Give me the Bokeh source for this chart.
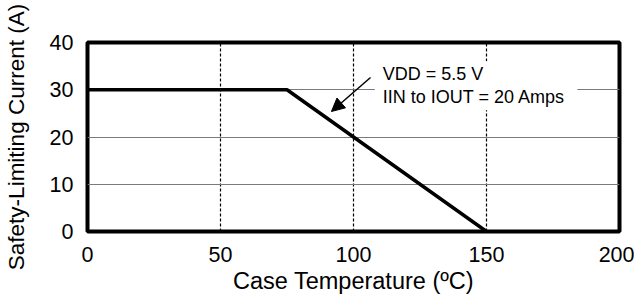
from bokeh.plotting import figure
from bokeh.models import FixedTicker, Label, Arrow, NormalHead, Range1d
from bokeh.embed import file_html
from bokeh.resources import INLINE

# Data
temp_c = [0, 75, 150]
current_a = [30, 30, 0]
x_ticks = [0, 50, 100, 150, 200]
y_ticks = [0, 10, 20, 30, 40]
note_line1 = "VDD = 5.5 V"
note_line2 = "IIN to IOUT = 20 Amps"
note_x = 108.0
note_y1 = 33.3
note_y2 = 28.4
arrow_from = (106.4, 32.6)
arrow_to = (91.7, 25.4)

FONT = "Liberation Sans"

p = figure(
    frame_width=532, frame_height=189,
    min_border_left=81, min_border_right=15, min_border_top=42, min_border_bottom=59,
    x_range=Range1d(0, 200), y_range=Range1d(0, 40),
    output_backend="svg", toolbar_location=None,
    background_fill_color="white", border_fill_color="white",
)

p.outline_line_color = "black"
p.outline_line_width = 4

for ax in (p.xaxis, p.yaxis):
    ax.axis_line_color = None
    ax.major_tick_line_color = None
    ax.minor_tick_line_color = None
    ax.major_tick_out = 0
    ax.major_tick_in = 0
    ax.minor_tick_out = 0
    ax.minor_tick_in = 0
    ax.major_label_text_font = FONT
    ax.major_label_text_font_size = "21.5px"
    ax.major_label_text_color = "black"
    ax.axis_label_text_font = FONT
    ax.axis_label_text_font_style = "normal"
    ax.axis_label_text_color = "black"

p.xaxis.axis_label_text_font_size = "23.5px"
p.yaxis.axis_label_text_font_size = "22.5px"

p.xaxis.ticker = FixedTicker(ticks=x_ticks)
p.yaxis.ticker = FixedTicker(ticks=y_ticks)
p.xaxis.axis_label = "Case Temperature (ºC)"
p.yaxis.axis_label = "Safety-Limiting Current (A)"
p.xaxis.major_label_standoff = 15
p.yaxis.major_label_standoff = 14
p.xaxis.axis_label_standoff = 3
p.yaxis.axis_label_standoff = 18

p.xgrid.grid_line_color = "black"
p.xgrid.grid_line_width = 1.2
p.xgrid.grid_line_dash = "3 2"
p.ygrid.grid_line_color = "#7a7a7a"
p.ygrid.grid_line_width = 1.2

p.line(temp_c, current_a, line_color="black", line_width=3.5)

pad = dict(left=8, right=12, top=3, bottom=3)
lbl1 = Label(x=note_x, y=note_y1, text=note_line1, text_font=FONT,
             text_font_size="18px", text_color="black", text_baseline="alphabetic",
             background_fill_color="white", padding=pad)
lbl2 = Label(x=note_x, y=note_y2, text=note_line2, text_font=FONT,
             text_font_size="18px", text_color="black", text_baseline="alphabetic",
             background_fill_color="white", padding=pad)
p.add_layout(lbl1)
p.add_layout(lbl2)

p.add_layout(Arrow(end=NormalHead(size=13, fill_color="black", line_color="black"),
                   x_start=arrow_from[0], y_start=arrow_from[1],
                   x_end=arrow_to[0], y_end=arrow_to[1],
                   line_color="black", line_width=1.5))

open("out.html", "w").write(file_html(p, INLINE))
